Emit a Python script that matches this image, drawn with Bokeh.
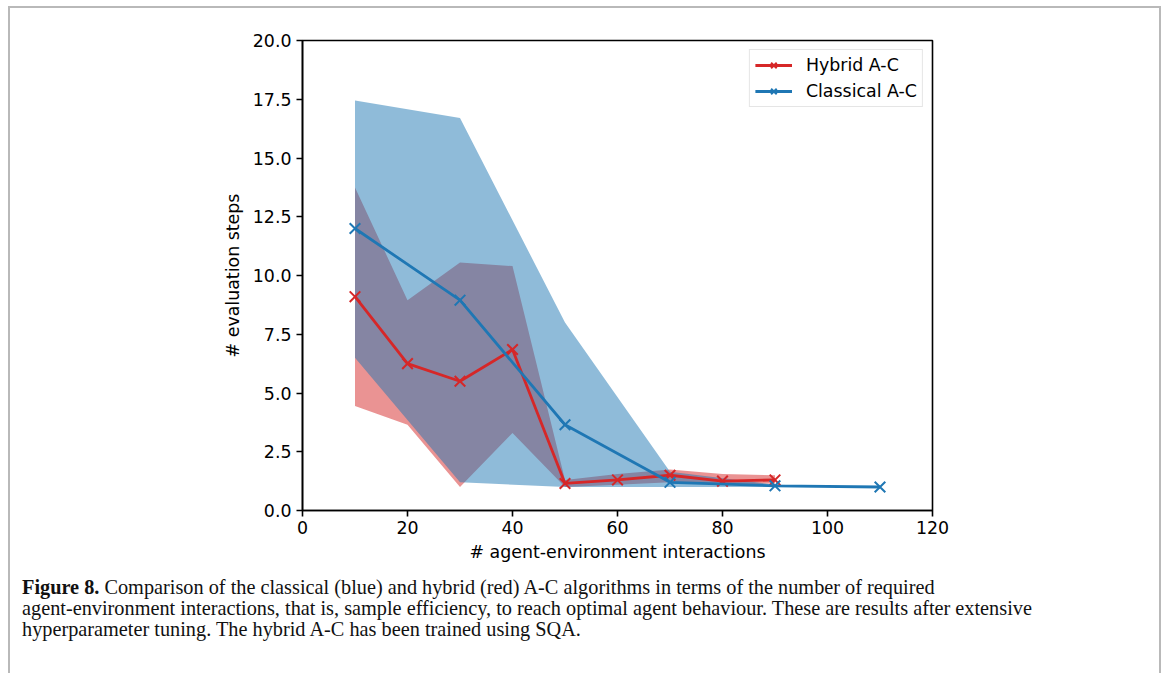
from bokeh.plotting import figure
from bokeh.layouts import column
from bokeh.models import Div, Legend, LegendItem, FixedTicker, NumeralTickFormatter, Range1d
from bokeh.embed import file_html
from bokeh.resources import INLINE

# ---- data ----
hyb_x = [10, 20, 30, 40, 50, 60, 70, 80, 90]
hyb_mean = [9.1, 6.25, 5.5, 6.85, 1.15, 1.3, 1.5, 1.25, 1.3]
hyb_low = [4.45, 3.65, 1.0, 3.3, 1.0, 1.1, 1.2, 1.1, 1.15]
hyb_high = [13.75, 8.95, 10.55, 10.4, 1.3, 1.55, 1.75, 1.55, 1.5]

cls_x = [10, 30, 50, 70, 90, 110]
cls_mean = [12.0, 8.95, 3.65, 1.2, 1.05, 1.0]
cls_low = [6.5, 1.2, 1.0, 1.0, 1.0, 1.0]
cls_high = [17.45, 16.7, 8.0, 1.65, 1.1, 1.0]

x_ticks = [0, 20, 40, 60, 80, 100, 120]
y_ticks = [0, 2.5, 5, 7.5, 10, 12.5, 15, 17.5, 20]

caption_bold = "Figure 8."
caption_lines = [
    "Comparison of the classical (blue) and hybrid (red) A-C algorithms in terms of the number of required",
    "agent-environment interactions, that is, sample efficiency, to reach optimal agent behaviour. These are results after extensive",
    "hyperparameter tuning. The hybrid A-C has been trained using SQA.",
]

RED = "#d62728"
BLUE = "#1f77b4"
FONT = "DejaVu Sans"
FS = "17.4px"

p = figure(
    frame_width=630, frame_height=470,
    min_border_left=302, min_border_right=236, min_border_top=40, min_border_bottom=55,
    x_range=Range1d(0, 120), y_range=Range1d(0, 20),
    output_backend="svg", toolbar_location=None,
)
p.background_fill_color = "white"
p.border_fill_alpha = 0
p.grid.visible = False
p.outline_line_color = "black"
p.outline_line_width = 1.6

# bands
p.varea(x=hyb_x, y1=hyb_low, y2=hyb_high, fill_color=RED, fill_alpha=0.5)
p.varea(x=cls_x, y1=cls_low, y2=cls_high, fill_color=BLUE, fill_alpha=0.5)

# lines + markers
rl = p.line(hyb_x, hyb_mean, line_color=RED, line_width=2.8)
rs = p.scatter(hyb_x, hyb_mean, marker="x", size=15, line_color=RED, line_width=2)
bl = p.line(cls_x, cls_mean, line_color=BLUE, line_width=2.8)
bs = p.scatter(cls_x, cls_mean, marker="x", size=15, line_color=BLUE, line_width=2)

legend = Legend(items=[
    LegendItem(label="Hybrid A-C", renderers=[rl, rs]),
    LegendItem(label="Classical A-C", renderers=[bl, bs]),
], location="top_right")
legend.margin = 9
legend.padding = 5
legend.spacing = 6
legend.glyph_width = 37
legend.glyph_height = 20
legend.label_height = 20
legend.label_standoff = 14
legend.label_text_font = FONT
legend.label_text_font_size = FS
legend.label_text_color = "black"
legend.border_line_color = "#cccccc"
legend.border_line_width = 1
legend.background_fill_alpha = 0.8
p.add_layout(legend)

# axes
for ax in (p.xaxis[0], p.yaxis[0]):
    ax.axis_line_width = 1.6
    ax.axis_line_color = "black"
    ax.major_tick_line_width = 1.6
    ax.major_tick_line_color = "black"
    ax.major_tick_in = 0
    ax.major_tick_out = 6
    ax.minor_tick_line_color = None
    ax.major_label_text_font = FONT
    ax.major_label_text_font_size = FS
    ax.major_label_text_color = "black"
    ax.axis_label_text_font = FONT
    ax.axis_label_text_font_size = FS
    ax.axis_label_text_font_style = "normal"
    ax.axis_label_text_color = "black"

p.xaxis[0].ticker = FixedTicker(ticks=x_ticks)
p.yaxis[0].ticker = FixedTicker(ticks=y_ticks)
p.yaxis[0].formatter = NumeralTickFormatter(format="0.0")
p.xaxis[0].formatter = NumeralTickFormatter(format="0")
p.xaxis[0].axis_label = "# agent-environment interactions"
p.yaxis[0].axis_label = "# evaluation steps"
p.xaxis[0].major_label_standoff = 4
p.yaxis[0].major_label_standoff = 5
p.xaxis[0].axis_label_standoff = 5
p.yaxis[0].axis_label_standoff = 7

caption_html = (
    '<div style="padding:12px 0 0 22px; font-family:\'Liberation Serif\', serif; font-size:20.3px; '
    'line-height:21px; color:#111; white-space:nowrap;">'
    f'<b>{caption_bold}</b> {caption_lines[0]}<br>{caption_lines[1]}<br>{caption_lines[2]}</div>'
)
cap = Div(text=caption_html, width=1168, height=108, margin=0)

shadow = ("inset 8px 6px 0 0 #ffffff, inset -7px 0 0 0 #ffffff, "
          "inset 10px 8px 0 0 #b9b9b9, inset -9px 0 0 0 #b9b9b9")
layout = column(p, cap, spacing=0, styles={"box-shadow": shadow})

open("out.html", "w").write(file_html(layout, INLINE))
